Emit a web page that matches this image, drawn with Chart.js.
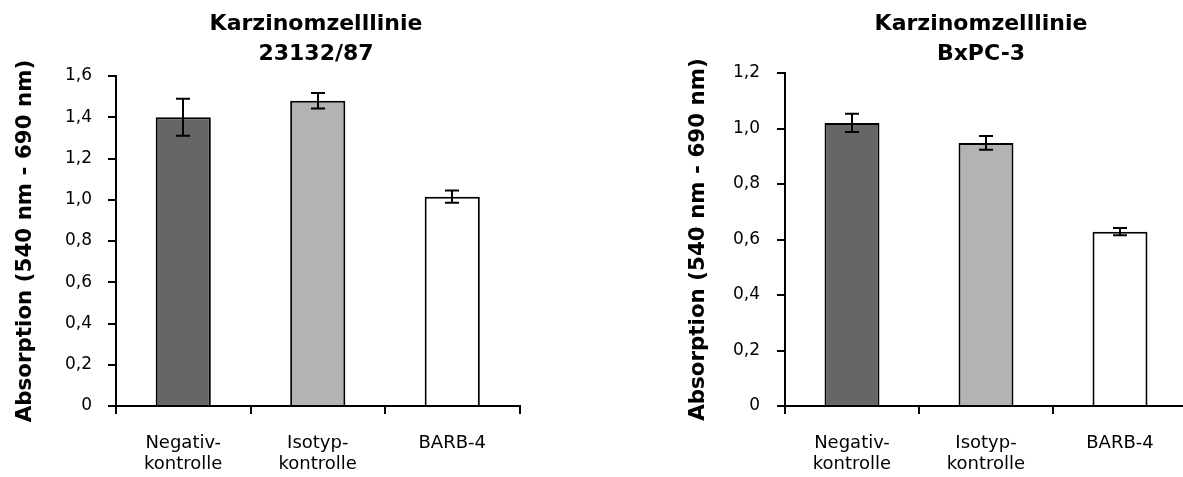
<!DOCTYPE html>
<html><head><meta charset="utf-8">
<script src="https://cdn.jsdelivr.net/npm/chart.js@4.4.1/dist/chart.umd.min.js"></script>
<style>
html,body{margin:0;padding:0;background:#fff;overflow:hidden;}
#wrap{position:relative;width:1183px;height:477px;overflow:hidden;background:#fff;}
canvas{position:absolute;top:0;}
</style></head><body>
<div id="wrap">
<canvas id="c1" width="632" height="477" style="left:0px;width:632px;height:477px"></canvas>
<canvas id="c2" width="682" height="477" style="left:640px;width:682px;height:477px"></canvas>
</div>
<script>
// ---- data ----
const categories = [['Negativ-', 'kontrolle'], ['Isotyp-', 'kontrolle'], 'BARB-4'];
const barColors = ['#666666', '#b3b3b3', '#ffffff'];
const titleLeft = ['Karzinomzelllinie', '23132/87'];
const titleRight = ['Karzinomzelllinie', 'BxPC-3'];
const yAxisTitle = 'Absorption (540 nm - 690 nm)';
const valuesLeft = [1.40, 1.48, 1.015];
const errorsLeft = [0.09, 0.038, 0.03];
const valuesRight = [1.02, 0.948, 0.628];
const errorsRight = [0.033, 0.025, 0.013];
const yTicksLeft = [0, 0.2, 0.4, 0.6, 0.8, 1.0, 1.2, 1.4, 1.6];
const yTicksRight = [0, 0.2, 0.4, 0.6, 0.8, 1.0, 1.2];

const FONT = 'DejaVu Sans';

const errorBarPlugin = {
  id: 'errorBars',
  afterDatasetsDraw(chart) {
    const ctx = chart.ctx;
    const yScale = chart.scales.y;
    const cap = 14;
    chart.data.datasets.forEach((ds, di) => {
      const meta = chart.getDatasetMeta(di);
      const errs = ds.errors || [];
      meta.data.forEach((bar, i) => {
        const v = ds.data[i], e = errs[i];
        if (e == null) return;
        const x = Math.round(bar.x);
        const yTop = yScale.getPixelForValue(v + e);
        const yBot = yScale.getPixelForValue(v - e);
        ctx.save();
        ctx.strokeStyle = '#000';
        ctx.lineWidth = 2;
        ctx.beginPath();
        ctx.moveTo(x, yTop); ctx.lineTo(x, yBot);
        ctx.moveTo(x - cap / 2, yTop); ctx.lineTo(x + cap / 2, yTop);
        ctx.moveTo(x - cap / 2, yBot); ctx.lineTo(x + cap / 2, yBot);
        ctx.stroke();
        ctx.restore();
      });
    });
  }
};

function fmt(v) {
  return v === 0 ? '0' : Number(v).toFixed(1).replace('.', ',');
}

function makeChart(id, title, values, errors, yTicks, cfg) {
  new Chart(document.getElementById(id), {
    type: 'bar',
    data: {
      labels: categories,
      datasets: [{
        data: values,
        errors: errors,
        backgroundColor: barColors,
        borderColor: '#000',
        borderWidth: 2,
        categoryPercentage: 1.0,
        barPercentage: 0.41
      }]
    },
    options: {
      responsive: false,
      animation: false,
      devicePixelRatio: 1,
      layout: { padding: 0 },
      plugins: {
        legend: { display: false },
        tooltip: { enabled: false },
        title: {
          display: true,
          text: title,
          color: '#000',
          font: { family: FONT, size: 22, weight: 'bold', lineHeight: 30 / 22 },
          padding: { top: 9.5, bottom: cfg.titlePadBottom }
        }
      },
      scales: {
        x: {
          offset: true,
          grid: { offset: true, drawOnChartArea: false, drawTicks: true, tickLength: 8, color: '#000', lineWidth: 2 },
          border: { display: true, color: '#000', width: 2 },
          ticks: { color: '#000', padding: 18.5, font: { family: FONT, size: 18, lineHeight: 21.5 / 18 }, maxRotation: 0, autoSkip: false },
          afterFit(s) { s.height = 71; }
        },
        y: {
          min: 0,
          max: yTicks[yTicks.length - 1],
          afterBuildTicks(s) { s.ticks = yTicks.map(v => ({ value: v })); },
          grid: { drawOnChartArea: false, drawTicks: true, tickLength: 8, color: '#000', lineWidth: 2 },
          border: { display: true, color: '#000', width: 2 },
          ticks: { color: '#000', padding: cfg.tickPad, font: { family: FONT, size: 17 }, callback: (v) => fmt(v) },
          title: {
            display: true,
            text: yAxisTitle,
            color: '#000',
            font: { family: FONT, size: 21.4, weight: 'bold', lineHeight: 1.2 },
            padding: { top: cfg.yTitlePad, bottom: 0 }
          },
          afterFit(s) { s.width = cfg.yAxisWidth; }
        },
        yR: {
          position: 'right',
          display: true,
          grid: { display: false, drawTicks: false },
          border: { display: false },
          ticks: { display: false },
          afterFit(s) { s.width = cfg.rightWidth; }
        }
      }
    },
    plugins: [errorBarPlugin]
  });
}

makeChart('c1', titleLeft, valuesLeft, errorsLeft, yTicksLeft,
  { yAxisWidth: 116, rightWidth: 112.5, yTitlePad: 12.4, titlePadBottom: 6.5, tickPad: 16 });
makeChart('c2', titleRight, valuesRight, errorsRight, yTicksRight,
  { yAxisWidth: 145, rightWidth: 135, yTitlePad: 45.4, titlePadBottom: 3.5, tickPad: 17 });
</script>
</body></html>
